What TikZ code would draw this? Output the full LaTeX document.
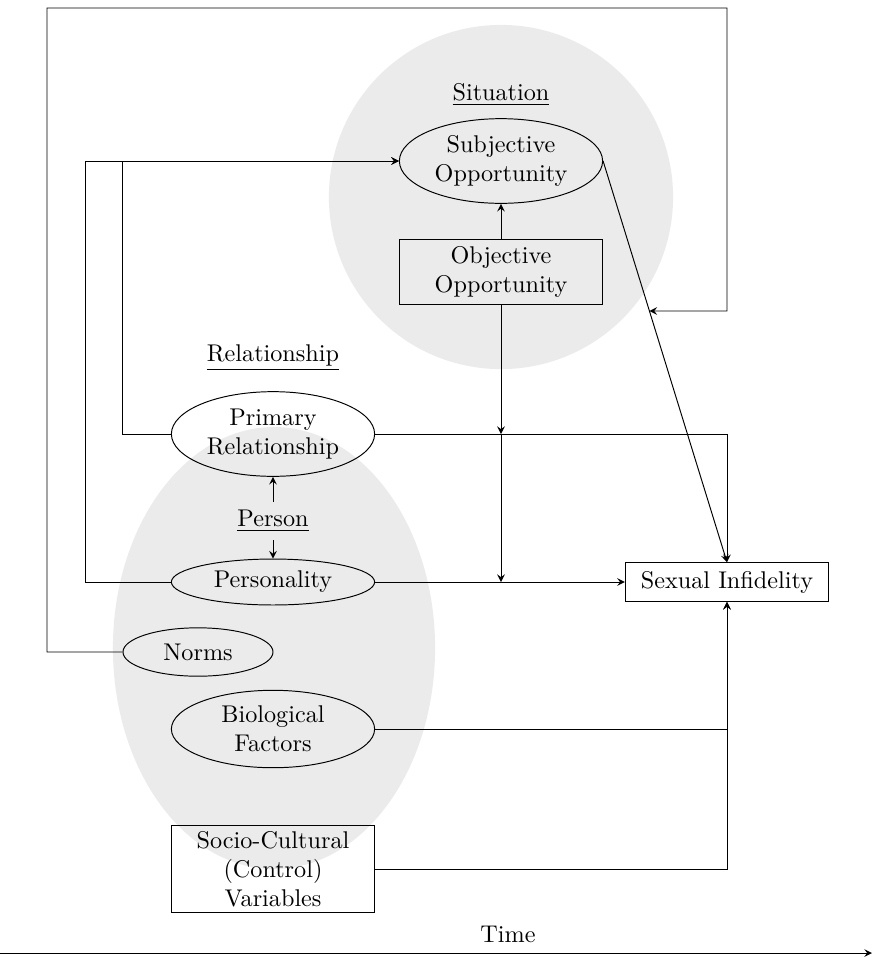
\documentclass[tikz,border=0pt]{standalone}
\usetikzlibrary{shapes.geometric,calc}

\tikzset{
  ellnode/.style={ellipse, draw, inner sep=0pt, minimum width=84pt, minimum height=35pt, align=center},
  boxnode/.style={rectangle, draw, inner sep=0pt, minimum width=84pt, align=center},
}

\begin{document}
\begin{tikzpicture}[x=0.01452cm, y=-0.01452cm, >=stealth] % 1 Einheit = 1 Pixel
\useasboundingbox (0,0) rectangle (872,958);

%HINTERGRUND (Situation oben, Person unten)
\fill [black!8] (501,197) circle [radius=2.5cm];
\fill [black!8] (274,648) ellipse [x radius=2.34cm, y radius=3.21cm];

%SITUATION
\node at (501,95) (situation) {\underline{Situation}};
\node [ellnode] (subj) at (501,161) {Subjective\\Opportunity};
\node [boxnode, minimum height=27pt] (obj) at (501,272) {Objective\\Opportunity};

%RELATIONSHIP
\node (relationship) at (273,358) {\underline{Relationship}};
\node [ellnode] (prim) at (273,434) {Primary\\Relationship};

%PERSON
\node (person) at (273,521) {\underline{Person}};
\node [ellnode, minimum height=19pt] (perso) at (273,582) {Personality};
\node [ellnode, minimum width=62pt, minimum height=20pt] (norms) at (198,652) {Norms};
\node [ellnode, minimum height=32pt] (bio) at (273,729) {Biological\\Factors};
\node [boxnode, minimum height=36pt] (socio) at (273,869) {Socio-Cultural\\(Control)\\Variables};

%ERGEBNIS
\node [boxnode, minimum height=16pt] (sexinf) at (727,582) {Sexual Infidelity};

%HILFSPUNKTE
\coordinate (topL) at (47,8);
\coordinate (topR) at (727,8);
\coordinate (loopR) at (727,311);
\coordinate (loopM) at (600,311);
\coordinate (hit) at (intersection of subj.east--sexinf.north and loopR--loopM);
\coordinate (cornerA) at (122,161);
\coordinate (cornerB) at (85,161);
\coordinate (modA) at (obj.south |- prim.east);
\coordinate (modB) at (obj.south |- perso.east);

%PFEILE
\draw [->] (norms.west) -| (topL) -- (topR) -- (loopR) -- (hit);
\draw [->] (subj.east) -- (sexinf.north);
\draw [->] (obj.north) -- (subj.south);
\draw [->] (obj.south) -- (modA);
\draw [->] (modA) -- (modB);
\draw [->] (prim.west) -| (cornerA) -- (subj.west);
\draw [->] (perso.west) -| (cornerB) -- (subj.west);
\draw [->] (person.north) -- (prim.south);
\draw [->] (person.south) -- (perso.north);
\draw [->] (prim.east) -| (sexinf.north);
\draw [->] (perso.east) -- (sexinf.west);
\draw [->] (bio.east) -| (sexinf.south);
\draw [->] (socio.east) -| (sexinf.south);

%ZEITACHSE
\coordinate (t0) at (0,953);
\coordinate (t1) at (872,953);
\node (time) at (508,934) {Time};
\draw [->] (t0) -- (t1);

\end{tikzpicture}
\end{document}
